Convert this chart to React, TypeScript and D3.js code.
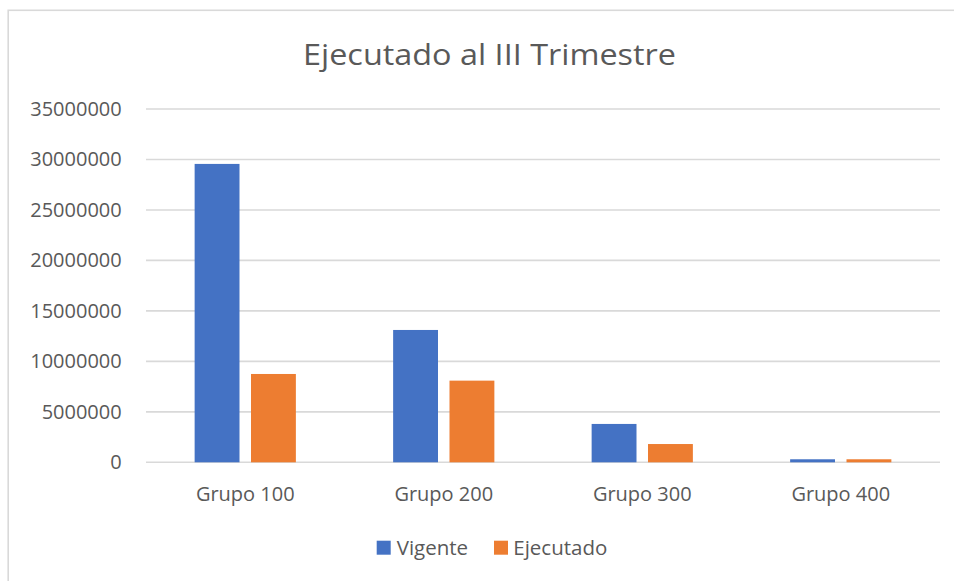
import React from "react";
import * as d3 from "d3";

const categories = ["Grupo 100", "Grupo 200", "Grupo 300", "Grupo 400"];
const seriesNames = ["Vigente", "Ejecutado"];
const vigente = [29560000, 13110000, 3800000, 300000];
const ejecutado = [8750000, 8090000, 1810000, 300000];
const yTicks = [0, 5000000, 10000000, 15000000, 20000000, 25000000, 30000000, 35000000];
const colors = ["#4472C4", "#ED7D31"];
const title = "Ejecutado al III Trimestre";

const W = 954;
const H = 581;
const plotLeft = 146;
const plotRight = 940;
const plotTop = 109;
const plotBottom = 462.3;
const textColor = "#595959";
const font = "'Open Sans', sans-serif";

export default function App() {
  const x = d3.scaleBand<string>().domain(categories).range([plotLeft, plotRight]).padding(0);
  const groupWidth = x.bandwidth() * 0.51;
  const xInner = d3
    .scaleBand<string>()
    .domain(seriesNames)
    .range([0, groupWidth])
    .paddingInner(0.204)
    .paddingOuter(0);
  const y = d3.scaleLinear().domain([0, 35000000]).range([plotBottom, plotTop]);
  const seriesValues = [vigente, ejecutado];

  return (
    <svg
      width={W}
      height={H}
      style={{ position: "absolute", left: 0, top: 0, background: "#fff" }}
      fontFamily={font}
    >
      <rect x={0} y={0} width={W} height={H} fill="#fff" />
      <rect x={8.2} y={10.3} width={970} height={600} fill="#fff" stroke="#d9d9d9" strokeWidth={1.6} />
      <text
        x={489.5}
        y={65}
        textAnchor="middle"
        fontSize={29}
        fill={textColor}
        textLength={373}
        lengthAdjust="spacingAndGlyphs"
      >
        {title}
      </text>
      {yTicks.map((t) => (
        <g key={t}>
          <line x1={plotLeft} x2={plotRight} y1={y(t)} y2={y(t)} stroke="#d9d9d9" strokeWidth={1.6} />
          <text x={121.7} y={y(t)} dy="0.35em" textAnchor="end" fontSize={20} fill={textColor}>
            {t}
          </text>
        </g>
      ))}
      {categories.map((c, i) => {
        const gx = (x(c) as number) + (x.bandwidth() - groupWidth) / 2;
        return (
          <g key={c}>
            {seriesNames.map((s, j) => {
              const v = seriesValues[j][i];
              return (
                <rect
                  key={s}
                  x={gx + (xInner(s) as number)}
                  y={y(v)}
                  width={xInner.bandwidth()}
                  height={plotBottom - y(v)}
                  fill={colors[j]}
                />
              );
            })}
            <text
              x={(x(c) as number) + x.bandwidth() / 2}
              y={494}
              dy="0.35em"
              textAnchor="middle"
              fontSize={20}
              fill={textColor}
            >
              {c}
            </text>
          </g>
        );
      })}
      <g>
        <rect x={376.7} y={540.7} width={14} height={14} fill={colors[0]} />
        <text x={396.7} y={547.5} dy="0.35em" fontSize={20.5} fill={textColor}>
          {seriesNames[0]}
        </text>
        <rect x={494} y={540.7} width={14} height={14} fill={colors[1]} />
        <text x={513.3} y={547.5} dy="0.35em" fontSize={20.5} fill={textColor}>
          {seriesNames[1]}
        </text>
      </g>
    </svg>
  );
}
